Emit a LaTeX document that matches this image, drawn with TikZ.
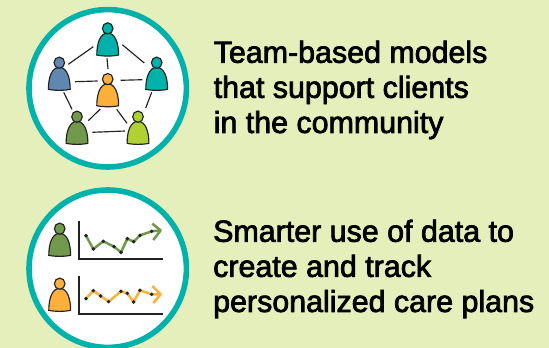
\documentclass[tikz,border=0pt]{standalone}
\usepackage{fontspec}
\setmainfont[RawFeature={embolden=2.4}]{Liberation Sans}
\definecolor{bgc}{RGB}{229,239,187}
\definecolor{tealc}{RGB}{0,178,169}
\definecolor{bluec}{RGB}{95,135,176}
\definecolor{orangec}{RGB}{255,176,59}
\definecolor{greenc}{RGB}{112,153,75}
\definecolor{limec}{RGB}{176,209,53}
\definecolor{inkc}{RGB}{35,35,35}
\tikzset{
  ring/.style={draw=tealc,fill=white,line width=5.6pt},
  link/.style={draw=inkc,line width=1.15pt},
  axis/.style={draw=inkc,line width=2pt,line join=miter},
  series/.style={line width=2.5pt,line join=round},
  dot/.style={fill=inkc},
  caption/.style={inner sep=0pt,anchor=north west,align=left,text=black,font=\fontsize{30.4}{35.1}\selectfont},
  figure/.style={inner sep=0pt,minimum width=22pt,minimum height=33pt},
}
% centre x, centre y, name, colour
\newcommand{\personfig}[4]{%
  \node[figure] (#3) at (#1,#2) {};
  \begin{scope}[shift={(#1,#2+15)}]
    \draw[inkc,line width=1.15pt,fill=#4] (-10.9,0) .. controls (-10.9,-12) and (-7.5,-21.9) .. (0,-21.9)
      .. controls (7.5,-21.9) and (10.9,-12) .. (10.9,0) .. controls (5,1.4) and (-5,1.4) .. cycle;
    \draw[inkc,line width=1.15pt,fill=#4] (0,-26.6) ellipse [x radius=5.3,y radius=5.6];
  \end{scope}}
\newcommand{\conn}[6]{\draw[link] ([shift={(#2,#3)}]#1.center) -- ([shift={(#5,#6)}]#4.center);}
\begin{document}
\begin{tikzpicture}[x=1pt,y=-1pt]
\useasboundingbox (0,0) rectangle (549,348);
\fill[bgc] (0,0) rectangle (549,348);
\begin{scope}
\clip (0,0) rectangle (549,348);
\draw[ring] (107.7,88.3) circle [radius=78.7];
\draw[ring] (107.7,268.7) circle [radius=78.7];
\end{scope}
\personfig{107.7}{40}{top}{tealc}
\personfig{59.3}{74.3}{lft}{bluec}
\personfig{156.7}{74.3}{rgt}{tealc}
\personfig{107.7}{90.7}{mid}{orangec}
\personfig{77}{128.3}{bl}{greenc}
\personfig{138}{128.3}{br}{limec}
\conn{top}{-14.4}{6.7}{lft}{9}{-10}
\conn{top}{14.6}{4.7}{rgt}{-12.4}{-11.3}
\conn{top}{-0.7}{18.3}{mid}{0.3}{-21.7}
\conn{lft}{15.7}{7.4}{mid}{-10}{-9.7}
\conn{mid}{13}{-10.4}{rgt}{-14.4}{5.4}
\conn{lft}{4.4}{18}{bl}{-5}{-19}
\conn{rgt}{-5}{18}{br}{7.7}{-20.3}
\conn{mid}{-7.4}{18.3}{bl}{11.3}{-7.6}
\conn{mid}{9}{18.6}{br}{-11}{-5}
\conn{bl}{15.3}{4}{br}{-13}{2.7}
\personfig{59.7}{240.3}{pg}{greenc}
\personfig{59.7}{295.3}{po}{orangec}
\begin{scope}[shift={(10,178)},x=0.3333pt,y=-0.3333pt]
  \draw[axis] (207,128) -- (207,244) -- (460,244);
  \draw[axis] (207,293) -- (207,408) -- (460,408);
  \draw[series,greenc] (228,173) -- (250,213) -- (280,190) -- (312,206) -- (333,223) -- (352,182) -- (371,191) -- (390,172) -- (425,160) -- (452,157);
  \draw[series,greenc] (427,137) -- (452,157) -- (430,186);
  \draw[series,orangec] (228,362) -- (250,338) -- (272,354) -- (296,371) -- (333,340) -- (352,346) -- (371,372) -- (390,337) -- (425,349) -- (452,349);
  \draw[series,orangec] (427,324) -- (452,349) -- (430,375);
  \foreach \p in {(228,173),(250,213),(280,190),(312,206),(333,223),(352,182),(371,191),(390,172),(425,160),(228,362),(250,338),(272,354),(296,371),(333,340),(352,346),(371,372),(390,337),(425,349)}
    \fill[dot] \p circle [radius=5.8];
\end{scope}
\node[caption] (cap1) at (213.5,40.5) {Team-based models\\that support clients\\in the community};
\node[caption] (cap2) at (213,219.5) {Smarter use of data to\\create and track\\personalized care plans};
\end{tikzpicture}
\end{document}
